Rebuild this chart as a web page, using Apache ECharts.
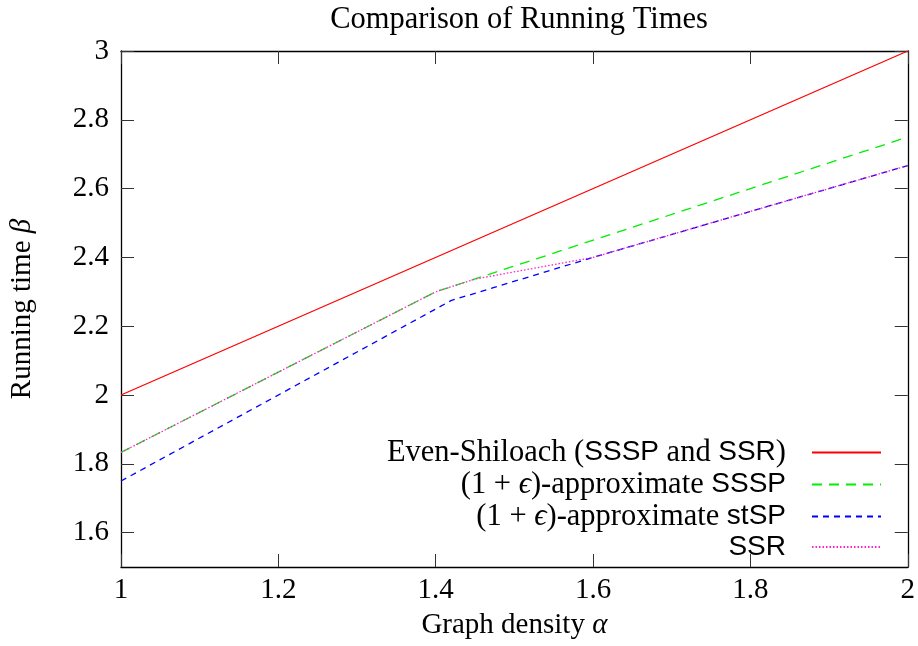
<!DOCTYPE html>
<html>
<head>
<meta charset="utf-8">
<script src="https://cdn.jsdelivr.net/npm/echarts@6/dist/echarts.min.js"></script>
<style>html,body{margin:0;padding:0;background:#fff}#c{width:918px;height:646px}</style>
</head>
<body>
<div id="c"></div>
<script>
// ---- data ----
const seriesNames = ['Even-Shiloach (SSSP and SSR)', '(1 + ϵ)-approximate SSSP', '(1 + ϵ)-approximate stSP', 'SSR'];
const esAlpha   = [1, 2];
const esBeta    = [2, 3];
const sssAlpha  = [1, 1.4, 2];
const sssBeta   = [1.833, 2.3, 2.75];
const stAlpha   = [1, 1.42, 1.6, 2];
const stBeta    = [1.75, 2.275, 2.4, 2.667];
const ssrAlpha  = [1, 1.4, 1.45, 1.6, 2];
const ssrBeta   = [1.833, 2.3, 2.337, 2.4, 2.667];
const xTicks = [1, 1.2, 1.4, 1.6, 1.8, 2];
const yTicks = [1.6, 1.8, 2, 2.2, 2.4, 2.6, 2.8, 3];

const SERIF = 'Liberation Serif';
const SANS = 'Liberation Sans';
const FS = 29;

function pairs(xs, ys) { return xs.map((x, i) => [x, ys[i]]); }

const legendRich = {
  s: { fontFamily: SERIF, fontSize: 30.5, lineHeight: 29, color: '#000' },
  i: { fontFamily: SERIF, fontSize: 30.5, fontStyle: 'italic', lineHeight: 29, color: '#000' },
  f: { fontFamily: SANS, fontSize: 28, lineHeight: 29, color: '#000' }
};
const nameRich = {
  i: { fontFamily: SERIF, fontSize: FS, fontStyle: 'italic', color: '#000' }
};
const legendText = {};
legendText[seriesNames[0]] = '{s|Even-Shiloach (}{f|SSSP}{s| and }{f|SSR}{s|)}';
legendText[seriesNames[1]] = '{s|(1 + }{i|ϵ}{s|)-approximate }{f|SSSP}';
legendText[seriesNames[2]] = '{s|(1 + }{i|ϵ}{s|)-approximate }{f|stSP}';
legendText[seriesNames[3]] = '{f|SSR}';

const tickStyle = { show: true, inside: true, length: 13, lineStyle: { color: '#333', width: 1 } };
const lineStyleAxis = { show: true, onZero: false, lineStyle: { color: '#000', width: 1.3 } };

const chart = echarts.init(document.getElementById('c'), null, { renderer: 'canvas' });
chart.setOption({
  animation: false,
  backgroundColor: '#fff',
  title: {
    text: 'Comparison of Running Times',
    left: 514, top: -1, textAlign: 'center',
    textStyle: { fontFamily: SERIF, fontSize: 30.5, fontWeight: 'normal', color: '#000' }
  },
  grid: { left: 120, right: 9, top: 51, bottom: 79 },
  legend: {
    orient: 'vertical', align: 'right', right: 36, top: 437, padding: 0,
    itemWidth: 69, itemHeight: 14, itemGap: 1,
    data: seriesNames,
    formatter: name => legendText[name],
    textStyle: { rich: legendRich, padding: [0, 21, 0, 0] },
    itemStyle: { opacity: 0 },
    selectedMode: false
  },
  xAxis: [{
    type: 'value', min: 1, max: 2, interval: 0.2, position: 'bottom',
    name: 'Graph density {i|α}', nameLocation: 'middle', nameGap: 44,
    nameTextStyle: { fontFamily: SERIF, fontSize: FS, color: '#000', rich: nameRich },
    axisLine: lineStyleAxis, axisTick: Object.assign({ customValues: xTicks }, tickStyle),
    axisLabel: { customValues: xTicks, margin: 9, fontFamily: SERIF, fontSize: FS, color: '#000' },
    splitLine: { show: false }
  }, {
    type: 'value', min: 1, max: 2, interval: 0.2, position: 'top',
    axisLine: lineStyleAxis, axisTick: Object.assign({ customValues: xTicks }, tickStyle),
    axisLabel: { show: false }, splitLine: { show: false }
  }],
  yAxis: [{
    type: 'value', min: 1.5, max: 3, position: 'left',
    name: 'Running time {i|β}', nameLocation: 'middle', nameGap: 84,
    nameTextStyle: { fontFamily: SERIF, fontSize: FS, color: '#000', rich: nameRich },
    axisLine: lineStyleAxis, axisTick: Object.assign({ customValues: yTicks }, tickStyle),
    axisLabel: { customValues: yTicks, margin: 12, fontFamily: SERIF, fontSize: FS, color: '#000' },
    splitLine: { show: false }
  }, {
    type: 'value', min: 1.5, max: 3, position: 'right',
    axisLine: lineStyleAxis, axisTick: Object.assign({ customValues: yTicks }, tickStyle),
    axisLabel: { show: false }, splitLine: { show: false }
  }],
  series: [
    { name: seriesNames[0], type: 'line', data: pairs(esAlpha, esBeta), symbol: 'none', showSymbol: false,
      color: '#ff0000', lineStyle: { color: '#ff0000', width: 1.3, type: 'solid' } },
    { name: seriesNames[1], type: 'line', data: pairs(sssAlpha, sssBeta), symbol: 'none', showSymbol: false,
      color: '#00ee00', lineStyle: { color: '#00ee00', width: 1.3, type: [10, 7] } },
    { name: seriesNames[2], type: 'line', data: pairs(stAlpha, stBeta), symbol: 'none', showSymbol: false,
      color: '#0000ff', lineStyle: { color: '#0000ff', width: 1.3, type: [6, 5] } },
    { name: seriesNames[3], type: 'line', data: pairs(ssrAlpha, ssrBeta), symbol: 'none', showSymbol: false,
      color: '#ff22cc', lineStyle: { color: '#ff22cc', width: 1.3, type: [1.5, 2] } }
  ]
});
</script>
</body>
</html>
